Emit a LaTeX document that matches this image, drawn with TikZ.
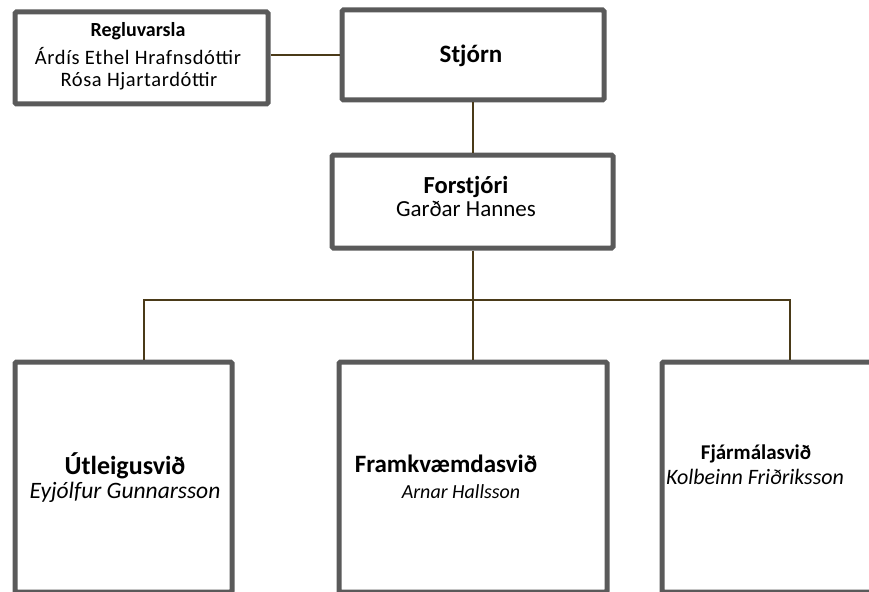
\documentclass[tikz,border=0pt]{standalone}
\usepackage{fontspec}
\setmainfont{Carlito}
\definecolor{boxgray}{RGB}{90,90,90}
\definecolor{linkbrown}{RGB}{74,58,24}
\begin{document}
\begin{tikzpicture}[x=1pt,y=-1pt,
  orgbox/.style={draw=boxgray,line width=5pt,fill=white,rounded corners=1.5pt,inner sep=0pt,anchor=north west},
  link/.style={draw=linkbrown,line width=2pt},
  txt/.style={inner sep=0pt,anchor=base},
  fs/.style={font=\fontsize{#1}{#1}\selectfont}]
\useasboundingbox (0,0) rectangle (869,591);
\begin{scope}
\clip (0,0) rectangle (869,591);
% boxes (outer edges minus half line width)
\node[orgbox,minimum width=253pt,minimum height=92pt] (reg) at (12.5,9.5) {};
\node[orgbox,minimum width=262pt,minimum height=90pt] (stjorn) at (339.5,7.5) {};
\node[orgbox,minimum width=281pt,minimum height=93pt] (forst) at (329.5,152.5) {};
\node[orgbox,minimum width=217pt,minimum height=230pt] (utl) at (12.5,359.5) {};
\node[orgbox,minimum width=268pt,minimum height=230pt] (framk) at (336.5,359.5) {};
\node[orgbox,minimum width=260pt,minimum height=230pt] (fjar) at (659.5,359.5) {};
% connectors
\coordinate (busL) at (144,300);
\coordinate (busR) at (790,300);
\draw[link] (stjorn.west) -- (stjorn.west -| reg.east);
\draw[link] (stjorn.south -| forst.north) -- (forst.north);
\draw[link] (forst.south) -- (forst.south |- framk.north);
\draw[link] (busL |- utl.north) -- (busL) -- (busR) -- (busR |- fjar.north);
\end{scope}
% texts
\node[txt,fs=20] (regT) at (138,37) {\bfseries Regluvarsla};
\node[txt,fs=20.5] (regA) at (138,65) {\addfontfeatures{LetterSpace=3}Árdís Ethel Hrafnsdóttir};
\node[txt,fs=20.5] (regB) at (139,87) {\addfontfeatures{LetterSpace=3}Rósa Hjartardóttir};
\node[txt,fs=25] (stjT) at (471,63) {\bfseries Stjórn};
\node[txt,fs=24.5] (forT) at (466,193) {\bfseries Forstjóri};
\node[txt,fs=23] (forN) at (466,216) {Garðar Hannes};
\node[txt,fs=26] (utlT) at (125,474) {\bfseries Útleigusvið};
\node[txt,fs=23.5] (utlN) at (125,498) {\itshape Eyjólfur Gunnarsson};
\node[txt,fs=25] (frT) at (446,472) {\bfseries Framkvæmdasvið};
\node[txt,fs=20] (frN) at (461,498) {\itshape Arnar Hallsson};
\node[txt,fs=21] (fjT) at (756,459) {\bfseries Fjármálasvið};
\node[txt,fs=22] (fjN) at (755,484) {\itshape Kolbeinn Friðriksson};
\end{tikzpicture}
\end{document}
